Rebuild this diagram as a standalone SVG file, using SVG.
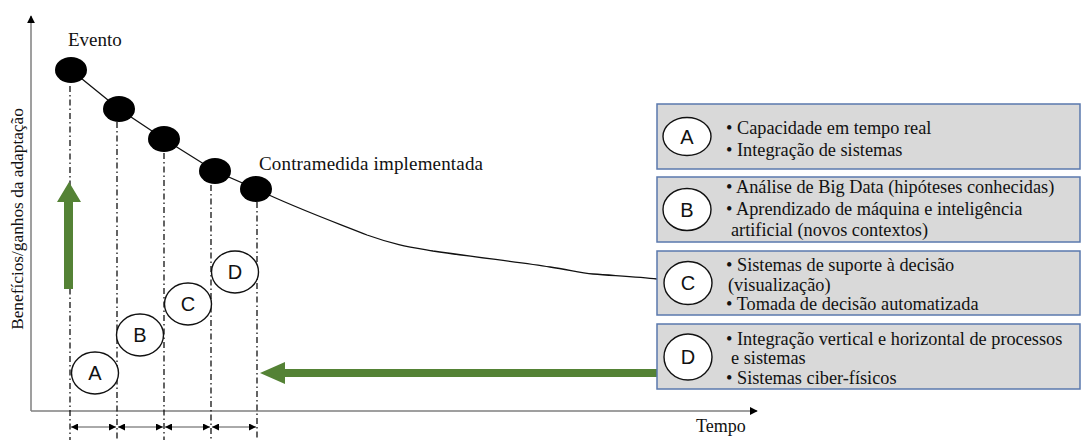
<svg xmlns="http://www.w3.org/2000/svg" width="1083" height="440" viewBox="0 0 1083 440">
  <style>
    .serif { font-family: "Liberation Serif", "Times New Roman", serif; fill: #111; }
    .lbl { font-size: 19px; }
    .item { font-size: 18.3px; }
    .letter { font-family: "Liberation Sans", Arial, sans-serif; font-size: 20px; fill: #111; text-anchor: middle; }
    .dot { fill: #000; }
    .ring { fill: #fff; stroke: #111; stroke-width: 1.4; }
    .box { fill: #d9d9d9; stroke: #5a78ad; stroke-width: 1.5; }
    .axis { stroke: #7f7f7f; stroke-width: 1.5; fill: none; }
    .guide { stroke: #111; stroke-width: 1.3; stroke-dasharray: 6 3 1.5 3; fill: none; }
    .trend { stroke: #111; stroke-width: 1.3; fill: none; }
    .span { stroke: #555; stroke-width: 1; fill: none; }
    .green { fill: #548235; }
  </style>
  <defs>
    <marker id="head" viewBox="0 0 10 10" refX="9" refY="5" markerWidth="8" markerHeight="8" markerUnits="userSpaceOnUse" orient="auto-start-reverse">
      <path d="M0,0 L10,5 L0,10 z" fill="#000"/>
    </marker>
    <marker id="tick" viewBox="0 0 10 10" refX="10" refY="5" markerWidth="9" markerHeight="7" markerUnits="userSpaceOnUse" orient="auto-start-reverse">
      <path d="M0,0 L10,5 L0,10 z" fill="#000"/>
    </marker>
  </defs>

  <g id="connectors">
    <!-- axes -->
    <line class="axis" x1="31" y1="411" x2="31" y2="16" marker-end="url(#head)"/>
    <line class="axis" x1="31" y1="411" x2="757" y2="411" marker-end="url(#head)"/>
    <!-- time guides below each stage -->
    <line class="guide" x1="70" y1="86" x2="70" y2="440"/>
    <line class="guide" x1="117" y1="122" x2="117" y2="440"/>
    <line class="guide" x1="164" y1="153" x2="164" y2="440"/>
    <line class="guide" x1="211" y1="185" x2="211" y2="440"/>
    <line class="guide" x1="257" y1="202" x2="257" y2="440"/>
    <!-- interval spans -->
    <line class="span" x1="71" y1="427" x2="116" y2="427" marker-start="url(#tick)" marker-end="url(#tick)"/>
    <line class="span" x1="118" y1="427" x2="163" y2="427" marker-start="url(#tick)" marker-end="url(#tick)"/>
    <line class="span" x1="165" y1="427" x2="210" y2="427" marker-start="url(#tick)" marker-end="url(#tick)"/>
    <line class="span" x1="212" y1="427" x2="256" y2="427" marker-start="url(#tick)" marker-end="url(#tick)"/>
    <!-- trend through events and decay afterwards -->
    <polyline class="trend" points="71,70 119,109 164,139 215,171 256,189"/>
    <path class="trend" d="M256,189 C300,210 340,224 367,235 C395,245 410,247 433,251 C480,258 520,262 550,267 C570,270 580,273 593,274 C620,276 640,277 657,279"/>
    <!-- green arrows -->
    <polygon class="green" points="64,289 73,289 73,202 81,202 69,182 57,202 64,202"/>
    <polygon class="green" points="657,369 657,377 285,377 285,384 260,373 285,362 285,369"/>
  </g>

  <g id="events">
    <ellipse id="dot-1" class="dot" cx="71" cy="70" rx="16" ry="13"/>
    <ellipse id="dot-2" class="dot" cx="119" cy="109" rx="16" ry="13"/>
    <ellipse id="dot-3" class="dot" cx="164" cy="139" rx="16" ry="13"/>
    <ellipse id="dot-4" class="dot" cx="215" cy="171" rx="16" ry="13"/>
    <ellipse id="dot-5" class="dot" cx="256" cy="189" rx="16" ry="13"/>
  </g>

  <g id="stage-a">
    <ellipse class="ring" cx="95" cy="373" rx="23.5" ry="21"/>
    <text class="letter" x="95" y="380">A</text>
  </g>
  <g id="stage-b">
    <ellipse class="ring" cx="140" cy="335" rx="23.5" ry="21"/>
    <text class="letter" x="140" y="342">B</text>
  </g>
  <g id="stage-c">
    <ellipse class="ring" cx="188" cy="304" rx="23.5" ry="21"/>
    <text class="letter" x="188" y="311">C</text>
  </g>
  <g id="stage-d">
    <ellipse class="ring" cx="235" cy="272" rx="23.5" ry="21"/>
    <text class="letter" x="235" y="279">D</text>
  </g>

  <g id="labels">
    <text class="serif lbl" x="68" y="46">Evento</text>
    <text class="serif lbl" x="259" y="170" textLength="224">Contramedida implementada</text>
    <text class="serif" font-size="18" x="696" y="432">Tempo</text>
    <text class="serif" font-size="17.3" transform="translate(23,219) rotate(-90)" text-anchor="middle">Benefícios/ganhos da adaptação</text>
  </g>

  <g id="box-a">
    <rect class="box" x="657" y="104" width="423" height="65"/>
    <ellipse class="ring" cx="687" cy="136.5" rx="24" ry="19"/>
    <text class="letter" x="687" y="143.5">A</text>
    <text class="serif item" x="726" y="134">• Capacidade  em tempo real</text>
    <text class="serif item" x="726" y="156">• Integração de sistemas</text>
  </g>
  <g id="box-b">
    <rect class="box" x="657" y="177" width="423" height="65"/>
    <ellipse class="ring" cx="687" cy="209.5" rx="24" ry="21"/>
    <text class="letter" x="687" y="216.5">B</text>
    <text class="serif item" x="726" y="193">• Análise de Big Data (hipóteses conhecidas)</text>
    <text class="serif item" x="726" y="215">• Aprendizado de máquina e inteligência</text>
    <text class="serif item" x="731" y="236">artificial (novos contextos)</text>
  </g>
  <g id="box-c">
    <rect class="box" x="657" y="251" width="423" height="64"/>
    <ellipse class="ring" cx="688" cy="283" rx="24" ry="21.5"/>
    <text class="letter" x="688" y="290">C</text>
    <text class="serif item" x="726" y="271">• Sistemas de suporte à decisão</text>
    <text class="serif item" x="728" y="291">(visualização)</text>
    <text class="serif item" x="726" y="310">• Tomada de decisão automatizada</text>
  </g>
  <g id="box-d">
    <rect class="box" x="657" y="324" width="423" height="65"/>
    <ellipse class="ring" cx="688" cy="357" rx="24" ry="23"/>
    <text class="letter" x="688" y="364">D</text>
    <text class="serif item" x="726" y="345">• Integração vertical e horizontal de processos</text>
    <text class="serif item" x="731" y="364">e sistemas</text>
    <text class="serif item" x="726" y="384">• Sistemas ciber-físicos</text>
  </g>
</svg>
